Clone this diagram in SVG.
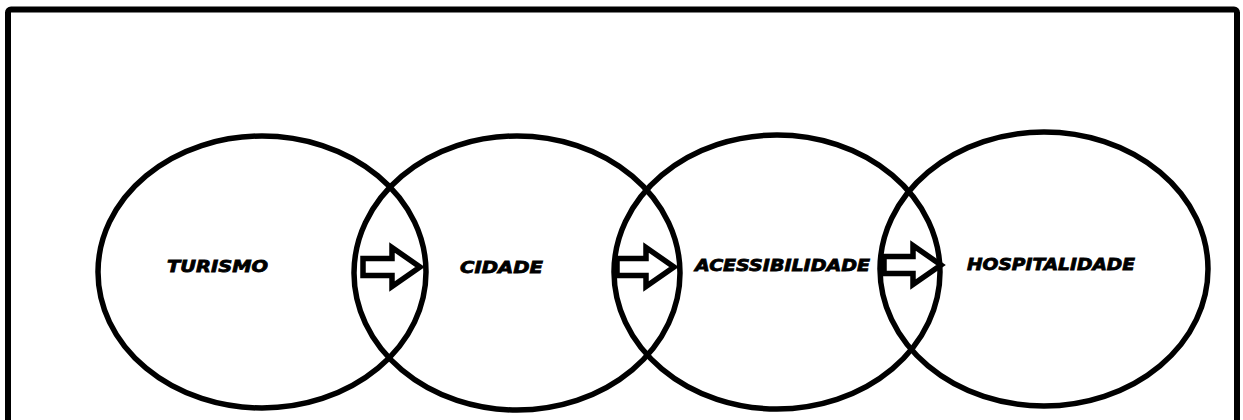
<svg xmlns="http://www.w3.org/2000/svg" width="1243" height="420" viewBox="0 0 1243 420">
  <style>
    .ring { fill: none; stroke: #000; stroke-width: 5.5; }
    .frame { fill: none; stroke: #000; stroke-width: 6; }
    .arrow { fill: #fff; stroke: #000; stroke-width: 5.5; stroke-linejoin: miter; }
    .label { font-family: "DejaVu Sans", "Liberation Sans", sans-serif; font-weight: bold; font-style: italic; font-size: 16px; fill: #000; stroke: #000; stroke-width: 0.8; }
  </style>
  <defs>
    <!-- block arrow pointing right, origin at left end of shaft, centred vertically -->
    <polygon id="blockArrow" class="arrow" points="0,-8.5 29,-8.5 29,-19.5 57,0 29,19.5 29,8.5 0,8.5"/>
  </defs>

  <rect width="1243" height="420" fill="#fff"/>
  <rect class="frame" x="8" y="9.5" width="1229" height="500" rx="3"/>

  <g id="node-turismo">
    <ellipse class="ring" cx="262" cy="272" rx="164" ry="136"/>
    <text class="label" x="167" y="272" textLength="101" lengthAdjust="spacingAndGlyphs">TURISMO</text>
  </g>
  <g id="node-cidade">
    <ellipse class="ring" cx="517" cy="273" rx="163" ry="137"/>
    <text class="label" x="460" y="273" textLength="83" lengthAdjust="spacingAndGlyphs">CIDADE</text>
  </g>
  <g id="node-acessibilidade">
    <ellipse class="ring" cx="777" cy="272" rx="163" ry="137"/>
    <text class="label" x="695" y="271" textLength="175" lengthAdjust="spacingAndGlyphs">ACESSIBILIDADE</text>
  </g>
  <g id="node-hospitalidade">
    <ellipse class="ring" cx="1044" cy="269" rx="164" ry="137"/>
    <text class="label" x="967" y="270" textLength="168" lengthAdjust="spacingAndGlyphs">HOSPITALIDADE</text>
  </g>

  <g id="connectors">
    <use href="#blockArrow" transform="translate(363,267)"/>
    <use href="#blockArrow" transform="translate(617,267)"/>
    <use href="#blockArrow" transform="translate(884,265)"/>
  </g>
</svg>
